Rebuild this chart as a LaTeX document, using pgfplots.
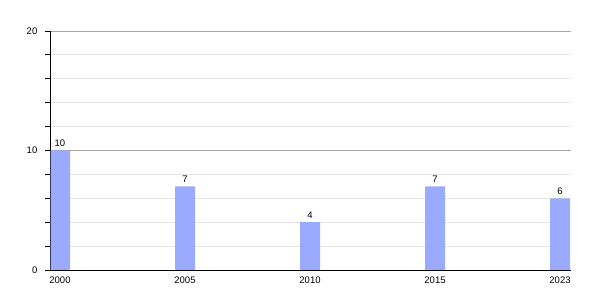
\documentclass[border=0pt]{standalone}
\usepackage{pgfplots}
\pgfplotsset{compat=1.18}
\usepackage{fontspec}
\setmainfont{Liberation Sans}
\definecolor{barblue}{RGB}{153,170,255}
\begin{document}
\begin{tikzpicture}
\useasboundingbox (0,0) rectangle (600bp,300bp);
\begin{axis}[
  at={(50.5bp,30bp)}, anchor=south west,
  scale only axis, width=520.5bp, height=239bp,
  xmin=-0.076, xmax=4.088, ymin=0, ymax=20,
  axis x line*=bottom, axis y line*=left,
  axis line style={black, line width=1bp},
  xtick={0,1,2,3,4}, xticklabels={2000,2005,2010,2015,2023},
  ytick={0,10,20}, minor ytick={2,4,6,8,12,14,16,18},
  ymajorgrids, yminorgrids,
  major grid style={draw=black!35, line width=0.8bp},
  minor grid style={draw=black!10, line width=0.8bp},
  x tick style={draw=none},
  y tick style={black, line width=0.8bp},
  tick align=outside,
  major tick length=5bp, minor tick length=5bp,
  /pgf/number format/assume math mode=true,
  tick label style={font=\fontsize{9.5bp}{11bp}\selectfont},
  xticklabel style={inner sep=1bp, yshift=-1bp},
  yticklabel style={inner sep=1bp, xshift=-7bp},
]
\addplot[ybar, bar width=20bp, fill=barblue, draw=none,
  nodes near coords,
  every node near coord/.append style={font=\fontsize{9.5bp}{11bp}\selectfont, inner sep=1bp, yshift=3bp, black}]
  coordinates {(0,10) (1,7) (2,4) (3,7) (4,6)};
\end{axis}
\end{tikzpicture}
\end{document}
